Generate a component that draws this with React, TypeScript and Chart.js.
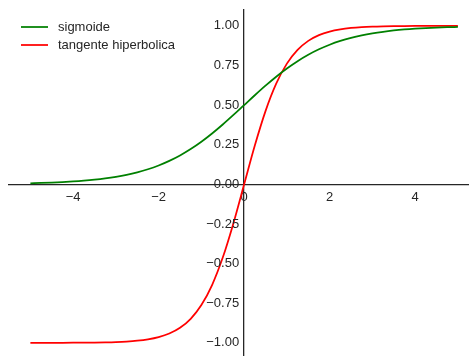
import React, { useEffect, useRef } from "react";
import { Chart, registerables } from "chart.js";

Chart.register(...registerables);

const xs = [
  -5, -4.75, -4.5, -4.25, -4, -3.75, -3.5, -3.25, -3, -2.75, -2.5, -2.25, -2, -1.75, -1.5, -1.25, -1, -0.75, -0.5, -0.25,
  0, 0.25, 0.5, 0.75, 1, 1.25, 1.5, 1.75, 2, 2.25, 2.5, 2.75, 3, 3.25, 3.5, 3.75, 4, 4.25, 4.5, 4.75, 5,
];

const sigmoide = [
  0.0067, 0.0086, 0.011, 0.0141, 0.018, 0.023, 0.0293, 0.0373, 0.0474, 0.0601, 0.0759, 0.0953, 0.1192, 0.1481, 0.1824,
  0.2227, 0.2689, 0.3208, 0.3775, 0.4378, 0.5, 0.5622, 0.6225, 0.6792, 0.7311, 0.7773, 0.8176, 0.8519, 0.8808, 0.9047,
  0.9241, 0.9399, 0.9526, 0.9627, 0.9707, 0.977, 0.982, 0.9859, 0.989, 0.9914, 0.9933,
];

const tangente = [
  -0.9999, -0.9999, -0.9998, -0.9996, -0.9993, -0.9989, -0.9982, -0.997, -0.9951, -0.9919, -0.9866, -0.978, -0.964,
  -0.9414, -0.9052, -0.8483, -0.7616, -0.6352, -0.4621, -0.2449, 0, 0.2449, 0.4621, 0.6352, 0.7616, 0.8483, 0.9052,
  0.9414, 0.964, 0.978, 0.9866, 0.9919, 0.9951, 0.997, 0.9982, 0.9989, 0.9993, 0.9996, 0.9998, 0.9999, 0.9999,
];

const xTicks = [-4, -2, 0, 2, 4];
const yTicks = [-1, -0.75, -0.5, -0.25, 0, 0.25, 0.5, 0.75, 1];
const labels = ["sigmoide", "tangente hiperbolica"];
const colors = ["#008000", "#ff0000"];

const FONT = "'Liberation Sans', Arial, sans-serif";
const TEXT = "#262626";

const fmt = (v: number, d: number) => (v < 0 ? "\u2212" + Math.abs(v).toFixed(d) : v.toFixed(d));

const overlayPlugin = {
  id: "mplOverlay",
  afterDatasetsDraw(chart: any) {
    const ctx = chart.ctx;
    const ys = chart.scales.y;
    const xsc = chart.scales.x;
    const x0 = xsc.getPixelForValue(0);
    ctx.save();
    ctx.font = `13px ${FONT}`;
    ctx.fillStyle = TEXT;
    ctx.textBaseline = "middle";
    ctx.textAlign = "right";
    ys.ticks.forEach((t: any) => {
      ctx.fillText(fmt(t.value, 2), x0 - 5, ys.getPixelForValue(t.value));
    });
    ctx.textAlign = "left";
    labels.forEach((l, i) => {
      const y = 27 + i * 18;
      ctx.strokeStyle = colors[i];
      ctx.lineWidth = 1.75;
      ctx.beginPath();
      ctx.moveTo(21, y);
      ctx.lineTo(48, y);
      ctx.stroke();
      ctx.fillText(l, 58, y);
    });
    ctx.restore();
  },
};

export default function App() {
  const ref = useRef<HTMLCanvasElement>(null);
  useEffect(() => {
    document.body.style.margin = "0";
    const chart = new Chart(ref.current!, {
      type: "line",
      data: {
        datasets: [
          {
            label: labels[0],
            data: xs.map((x, i) => ({ x, y: sigmoide[i] })),
            borderColor: colors[0],
            borderWidth: 1.75,
            pointRadius: 0,
            cubicInterpolationMode: "monotone",
          },
          {
            label: labels[1],
            data: xs.map((x, i) => ({ x, y: tangente[i] })),
            borderColor: colors[1],
            borderWidth: 1.75,
            pointRadius: 0,
            cubicInterpolationMode: "monotone",
          },
        ],
      },
      options: {
        animation: false,
        responsive: false,
        layout: { padding: { left: 9, top: 10, right: 0, bottom: 0 } },
        plugins: { legend: { display: false }, tooltip: { enabled: false } },
        scales: {
          x: {
            type: "linear",
            position: { y: 0 } as any,
            min: -5.5,
            max: 5.26,
            afterBuildTicks: (s: any) => {
              s.ticks = xTicks.map((v) => ({ value: v }));
            },
            afterFit: (s: any) => {
              s.height = 0;
            },
            grid: { display: false, drawTicks: false },
            border: { display: true, color: TEXT, width: 1.3 },
            ticks: {
              padding: 5,
              color: TEXT,
              font: { family: FONT, size: 13 },
              callback: (v: any) => fmt(Number(v), 0),
              maxRotation: 0,
            },
          },
          y: {
            type: "linear",
            position: { x: 0 } as any,
            min: -1.083,
            max: 1.1,
            afterBuildTicks: (s: any) => {
              s.ticks = yTicks.map((v) => ({ value: v }));
            },
            afterFit: (s: any) => {
              s.width = 0;
            },
            grid: { display: false, drawTicks: false },
            border: { display: true, color: TEXT, width: 1.3 },
            ticks: { display: false },
          },
        },
      },
      plugins: [overlayPlugin],
    } as any);
    return () => chart.destroy();
  }, []);
  return <canvas ref={ref} width={469} height={356} style={{ display: "block", width: 469, height: 356 }} />;
}
